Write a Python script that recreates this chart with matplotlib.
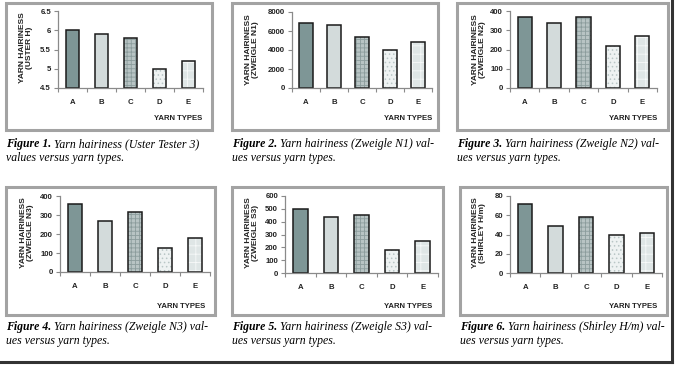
import matplotlib.pyplot as plt
from matplotlib.patches import Rectangle
from matplotlib.lines import Line2D

# data
types = ['A', 'B', 'C', 'D', 'E']
uster_h = [6.0, 5.9, 5.8, 5.0, 5.2]
zweigle_n1 = [6800, 6600, 5400, 4000, 4850]
zweigle_n2 = [370, 340, 370, 220, 270]
zweigle_n3 = [360, 270, 315, 125, 178]
zweigle_s3 = [500, 440, 450, 180, 250]
shirley_hm = [72, 49, 58, 40, 42]

ylabels = ['(USTER H)', '(ZWEIGLE N1)', '(ZWEIGLE N2)', '(ZWEIGLE N3)', '(ZWEIGLE S3)', '(SHIRLEY H/m)']
ylims = [(4.5, 6.5), (0, 8000), (0, 400), (0, 400), (0, 600), (0, 80)]
ysteps = [0.5, 2000, 100, 100, 100, 20]
ticklabels = [['4.5', '5', '5.5', '6', '6.5'], None, None, None, None, None]
captions = [
    ('Figure 1.', ' Yarn hairiness (Uster Tester 3)', 'values versus yarn types.'),
    ('Figure 2.', ' Yarn hairiness (Zweigle N1) val-', 'ues versus yarn types.'),
    ('Figure 3.', ' Yarn hairiness (Zweigle N2) val-', 'ues versus yarn types.'),
    ('Figure 4.', ' Yarn hairiness (Zweigle N3) val-', 'ues versus yarn types.'),
    ('Figure 5.', ' Yarn hairiness (Zweigle S3) val-', 'ues versus yarn types.'),
    ('Figure 6.', ' Yarn hairiness (Shirley H/m) val-', 'ues versus yarn types.'),
]
series = [uster_h, zweigle_n1, zweigle_n2, zweigle_n3, zweigle_s3, shirley_hm]

# bar styles A..E
fills = ['#7e9696', '#d3dbdb', '#b8c4c4', '#eef2f2', '#dfe6e6']
hatches = [None, None, '++++', '....', '++']
hatch_cols = [None, None, '#8b9c9c', '#b9c6c6', '#f7f9f9']

W, H = 675, 366
# pixel layout (top-origin): frame box, axes box, ylabel centre, x title, caption origin
frames = [(6, 3, 212, 130), (232, 3, 438, 130), (457, 3, 668, 130),
          (6, 187, 215, 315), (232, 187, 443, 315), (460, 187, 667, 315)]
axboxes = [(58, 11, 203, 88), (292, 12, 432, 88), (510, 11, 657, 88),
           (60, 196, 210, 272), (285, 196, 438, 273), (510, 196, 662, 273)]
ylab_pos = [(26, 48), (252, 50), (479, 50), (27, 233), (252, 233), (479, 233)]
xlab_pos = [(202, 119), (432, 119), (657, 119), (205, 306), (432, 306), (657, 306)]
cap_pos = [(6, 147), (232, 147), (457, 147), (6, 330), (232, 330), (460, 330)]
capsize = 8.5

plt.rcParams['hatch.linewidth'] = 0.6
fig = plt.figure(figsize=(W / 100, H / 100), dpi=100)


def fx(x):
    return x / W


def fy(y):
    return 1 - y / H


for i in range(6):
    x0, y0, x1, y1 = frames[i]
    fig.patches.append(Rectangle((fx(x0), fy(y1)), fx(x1 - x0), (y1 - y0) / H,
                                 transform=fig.transFigure, fill=False,
                                 edgecolor='#a3a3a3', linewidth=2.2))
    a0, b0, a1, b1 = axboxes[i]
    ax = fig.add_axes([fx(a0), fy(b1), fx(a1 - a0), (b1 - b0) / H])
    lo, hi = ylims[i]
    vals = series[i]
    xs = range(len(types))
    heights = [v - lo for v in vals]
    # fill with hatch, then dark outline on top
    for j in xs:
        hc = hatch_cols[j] if hatch_cols[j] else fills[j]
        ax.bar(j, heights[j], bottom=lo, width=0.48, color=fills[j],
               hatch=hatches[j], edgecolor=hc, linewidth=0)
    ax.bar(xs, heights, bottom=lo, width=0.48, fill=False,
           edgecolor='#1a1a1a', linewidth=1.1)
    ax.set_xlim(-0.5, 4.5)
    ax.set_ylim(lo, hi)
    n = int(round((hi - lo) / ysteps[i]))
    yt = [lo + k * ysteps[i] for k in range(n + 1)]
    ax.set_yticks(yt)
    if ticklabels[i]:
        ax.set_yticklabels(ticklabels[i])
    else:
        ax.set_yticklabels([str(int(v)) for v in yt])
    ax.set_xticks(list(xs))
    ax.set_xticklabels(types)
    ax.set_xticks([k - 0.5 for k in range(6)], minor=True)
    ax.tick_params(axis='x', which='major', length=0, pad=8)
    ax.tick_params(axis='x', which='minor', length=3, color='#8a8a8a', width=0.8)
    ax.tick_params(axis='y', length=3, color='#8a8a8a', width=0.8, pad=2)
    for lab in ax.get_xticklabels() + ax.get_yticklabels():
        lab.set_fontfamily('Liberation Sans')
        lab.set_fontweight('bold')
        lab.set_fontsize(5.6)
        lab.set_color('#222222')
    for s in ['top', 'right']:
        ax.spines[s].set_visible(False)
    for s in ['left', 'bottom']:
        ax.spines[s].set_color('#8a8a8a')
        ax.spines[s].set_linewidth(0.9)
    ax.patch.set_alpha(0)

    lx, ly = ylab_pos[i]
    fig.text(fx(lx), fy(ly), 'YARN HAIRINESS\n' + ylabels[i], rotation=90,
             ha='center', va='center', fontsize=6, fontweight='bold',
             family='Liberation Sans', color='#222222', linespacing=1.0)
    tx, ty = xlab_pos[i]
    fig.text(fx(tx), fy(ty), 'YARN TYPES', ha='right', va='center',
             fontsize=5.6, fontweight='bold', family='Liberation Sans',
             color='#222222')

    # caption: bold italic figure number followed by italic text
    cx, cy = cap_pos[i]
    bold, rest, line2 = captions[i]
    t1 = fig.text(fx(cx), fy(cy), bold, ha='left', va='baseline',
                  fontsize=capsize, fontweight='bold', style='italic',
                  family='Liberation Serif')
    plt.annotate(rest, xy=(1, 0), xycoords=t1, xytext=(0, 0),
                 textcoords='offset points', va='bottom', ha='left',
                 fontsize=capsize, style='italic', family='Liberation Serif',
                 annotation_clip=False)
    fig.text(fx(cx), fy(cy + 14), line2, ha='left', va='baseline',
             fontsize=capsize, style='italic', family='Liberation Serif')

# page edge shadow lines
fig.add_artist(Line2D([fx(672), fx(672)], [fy(0), fy(362)], transform=fig.transFigure,
                      color='#333333', linewidth=2.2))
fig.add_artist(Line2D([fx(0), fx(672)], [fy(362), fy(362)], transform=fig.transFigure,
                      color='#333333', linewidth=2.2))

fig.savefig('out.png', dpi=100)
